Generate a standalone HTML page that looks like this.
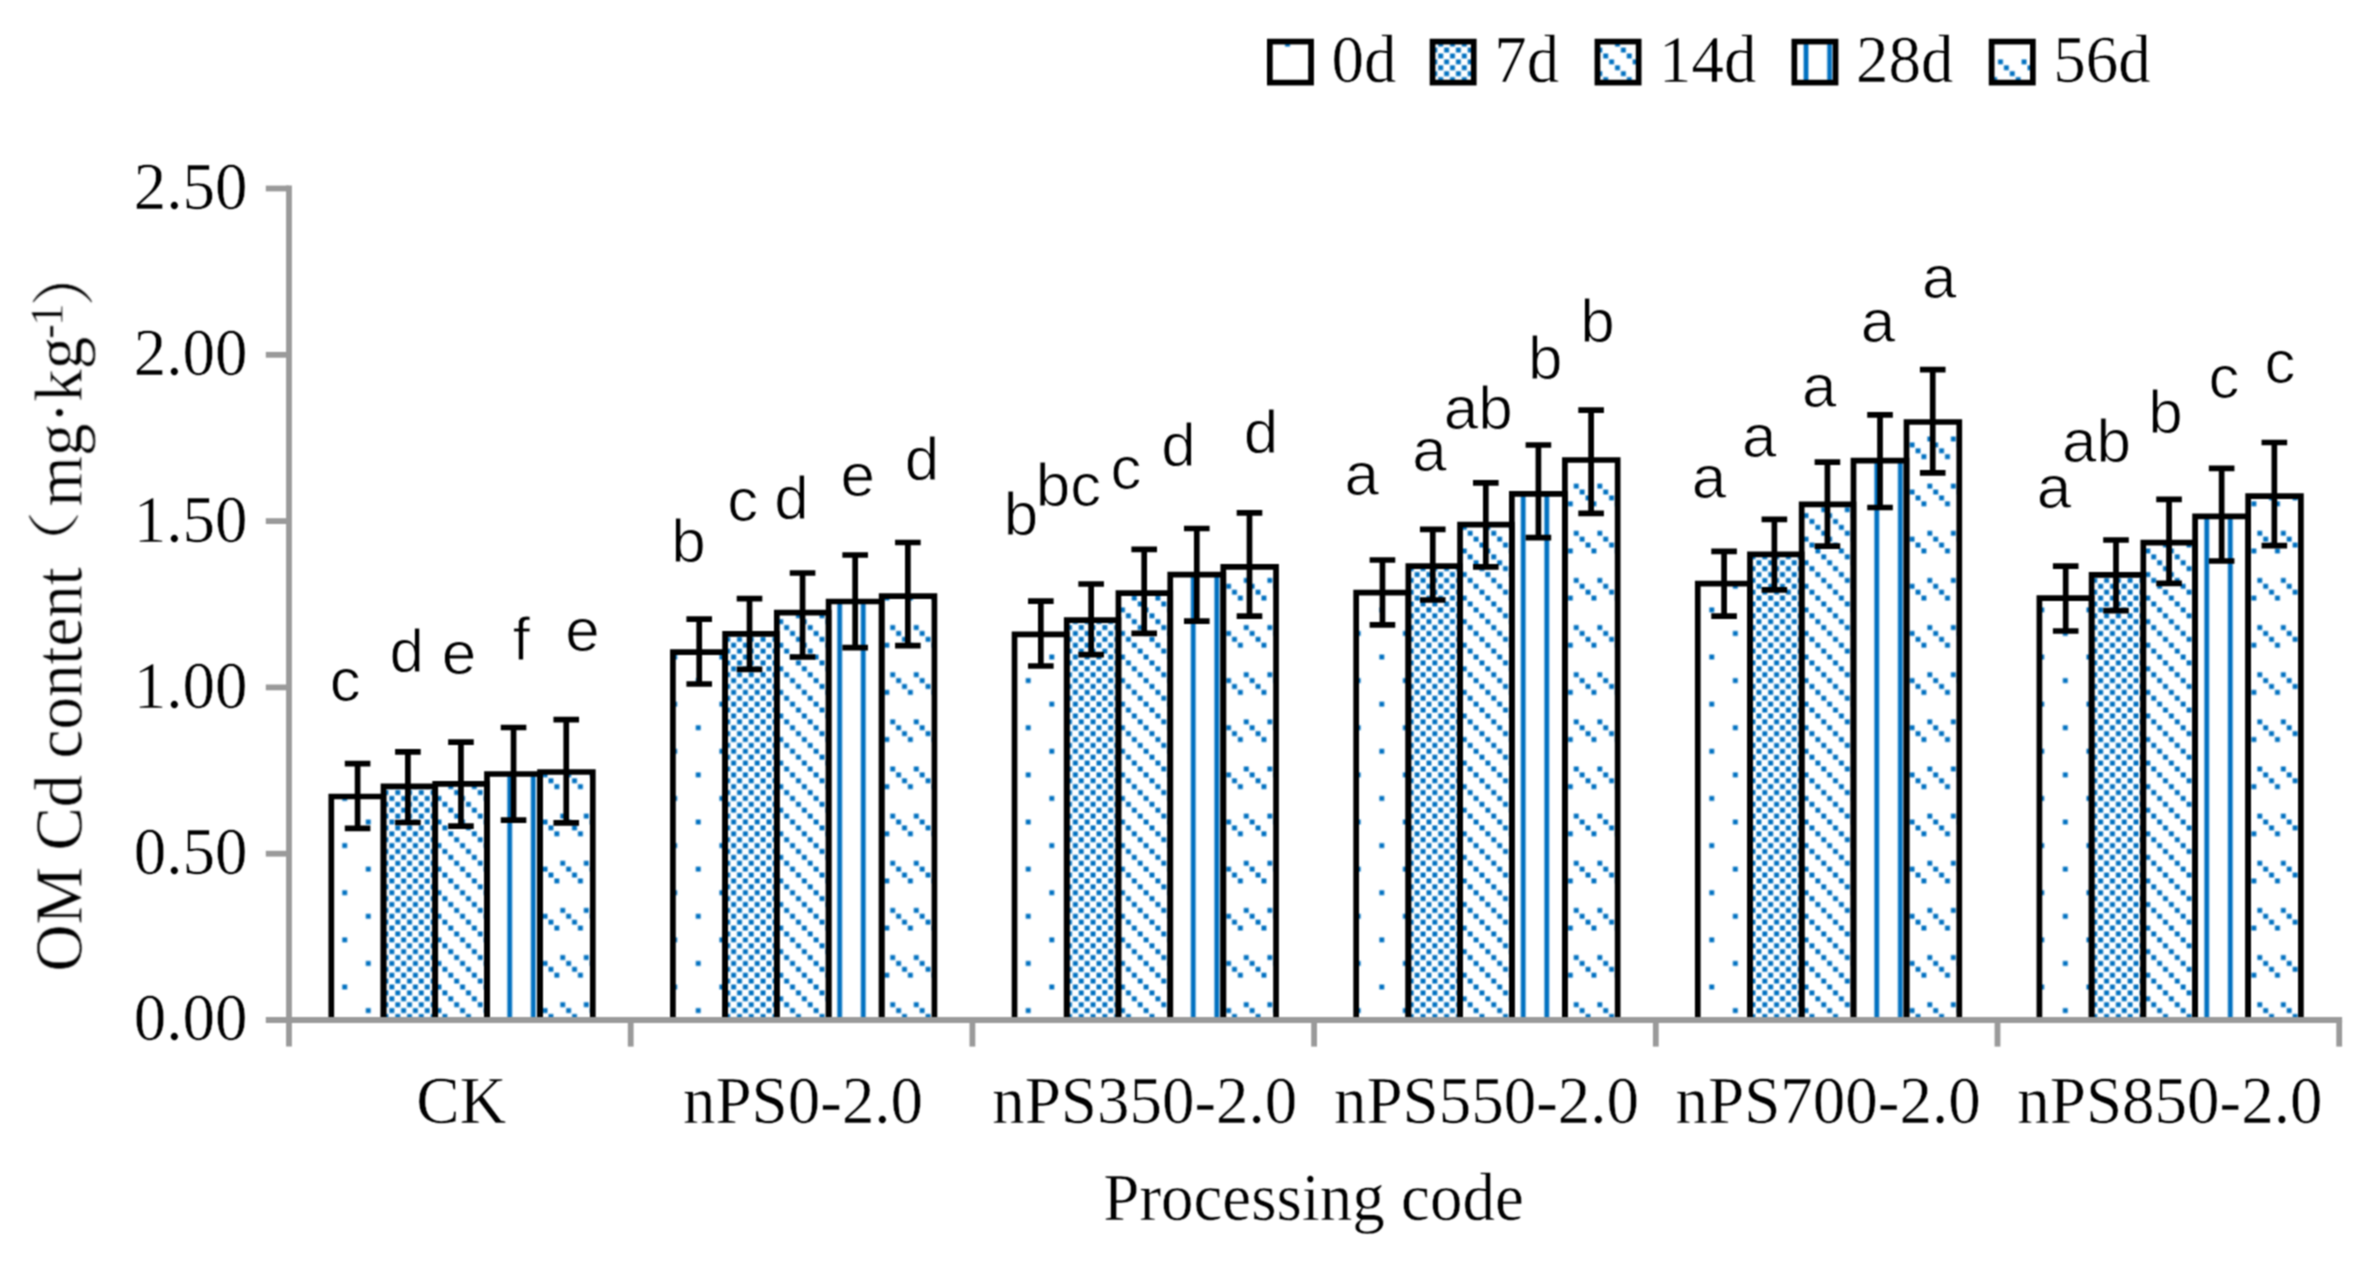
<!DOCTYPE html>
<html lang="en"><head><meta charset="utf-8"><title>OM Cd content chart</title>
<style>html,body{margin:0;padding:0;background:#fff;}body{width:2366px;height:1261px;overflow:hidden;}svg{display:block;}.s{font-family:"Liberation Serif", "Noto Serif CJK SC", serif;font-size:65px;fill:#000;stroke:#fff;stroke-width:0.5px;}.l{font-family:"Liberation Sans", sans-serif;font-size:62px;fill:#000;text-anchor:middle;stroke:#fff;stroke-width:0.9px;}</style>
</head><body>
<svg width="2366" height="1261" viewBox="0 0 2366 1261">
<defs>
<pattern id="p0" patternUnits="userSpaceOnUse" x="0" y="0" width="47.14" height="47.14">
<rect x="0" y="0" width="47.14" height="47.14" fill="#fff"/>
<rect x="12.281" y="41.744" width="4.9" height="4.9" fill="#0070C0"/>
<rect x="35.851" y="18.174" width="4.9" height="4.9" fill="#0070C0"/>
</pattern>
<pattern id="p1" patternUnits="userSpaceOnUse" x="0" y="0" width="11.785" height="11.785">
<rect x="0" y="0" width="11.785" height="11.785" fill="#fff"/>
<rect x="6.389" y="0.496" width="4.9" height="4.9" fill="#0070C0"/>
<rect x="0.496" y="6.389" width="4.9" height="4.9" fill="#0070C0"/>
</pattern>
<pattern id="p2" patternUnits="userSpaceOnUse" x="0" y="0" width="23.57" height="23.57">
<rect x="0" y="0" width="23.57" height="23.57" fill="#fff"/>
<rect x="18.174" y="0.496" width="4.9" height="4.9" fill="#0070C0"/>
<rect x="0.496" y="6.389" width="4.9" height="4.9" fill="#0070C0"/>
<rect x="6.389" y="12.281" width="4.9" height="4.9" fill="#0070C0"/>
<rect x="12.281" y="18.174" width="4.9" height="4.9" fill="#0070C0"/>
</pattern>
<pattern id="p3" patternUnits="userSpaceOnUse" x="0" y="0" width="23.57" height="47.14">
<rect x="0" y="0" width="23.57" height="47.14" fill="#fff"/>
<rect x="12.331" y="0" width="4.8" height="47.14" fill="#0070C0"/>
</pattern>
<pattern id="p4" patternUnits="userSpaceOnUse" x="0" y="0" width="23.57" height="47.14">
<rect x="0" y="0" width="23.57" height="47.14" fill="#fff"/>
<rect x="18.174" y="12.281" width="4.9" height="4.9" fill="#0070C0"/>
<rect x="0.496" y="18.174" width="4.9" height="4.9" fill="#0070C0"/>
<rect x="6.389" y="24.066" width="4.9" height="4.9" fill="#0070C0"/>
<rect x="12.281" y="29.959" width="4.9" height="4.9" fill="#0070C0"/>
</pattern>
<filter id="soft" filterUnits="userSpaceOnUse" x="0" y="0" width="2366" height="1261" color-interpolation-filters="sRGB"><feConvolveMatrix order="3" kernelMatrix="1 2 1 2 4 2 1 2 1" divisor="16" edgeMode="duplicate" preserveAlpha="false"/></filter>
</defs>
<rect x="0" y="0" width="2366" height="1261" fill="#fff"/>
<g filter="url(#soft)">
<g>
<rect x="331.3" y="796.5" width="52.2" height="223.5" fill="url(#p0)"/>
<rect x="383.5" y="786.4" width="51.7" height="233.6" fill="url(#p1)"/>
<rect x="435.2" y="783.8" width="51.8" height="236.2" fill="url(#p2)"/>
<rect x="487" y="774" width="53.05" height="246" fill="url(#p3)"/>
<rect x="540.05" y="772" width="52.75" height="248" fill="url(#p4)"/>
<rect x="672.92" y="652.2" width="52.2" height="367.8" fill="url(#p0)"/>
<rect x="725.12" y="633.8" width="51.7" height="386.2" fill="url(#p1)"/>
<rect x="776.82" y="612.6" width="51.8" height="407.4" fill="url(#p2)"/>
<rect x="828.62" y="601.5" width="53.05" height="418.5" fill="url(#p3)"/>
<rect x="881.67" y="596.1" width="52.75" height="423.9" fill="url(#p4)"/>
<rect x="1014.54" y="634.4" width="52.2" height="385.6" fill="url(#p0)"/>
<rect x="1066.74" y="620.2" width="51.7" height="399.8" fill="url(#p1)"/>
<rect x="1118.44" y="593.1" width="51.8" height="426.9" fill="url(#p2)"/>
<rect x="1170.24" y="574.6" width="53.05" height="445.4" fill="url(#p3)"/>
<rect x="1223.29" y="566.8" width="52.75" height="453.2" fill="url(#p4)"/>
<rect x="1356.16" y="592.6" width="52.2" height="427.4" fill="url(#p0)"/>
<rect x="1408.36" y="566.2" width="51.7" height="453.8" fill="url(#p1)"/>
<rect x="1460.06" y="524.6" width="51.8" height="495.4" fill="url(#p2)"/>
<rect x="1511.86" y="493.8" width="53.05" height="526.2" fill="url(#p3)"/>
<rect x="1564.91" y="460" width="52.75" height="560" fill="url(#p4)"/>
<rect x="1697.78" y="583.7" width="52.2" height="436.3" fill="url(#p0)"/>
<rect x="1749.98" y="554.4" width="51.7" height="465.6" fill="url(#p1)"/>
<rect x="1801.68" y="504.3" width="51.8" height="515.7" fill="url(#p2)"/>
<rect x="1853.48" y="460.6" width="53.05" height="559.4" fill="url(#p3)"/>
<rect x="1906.53" y="422" width="52.75" height="598" fill="url(#p4)"/>
<rect x="2039.4" y="598.2" width="52.2" height="421.8" fill="url(#p0)"/>
<rect x="2091.6" y="574.8" width="51.7" height="445.2" fill="url(#p1)"/>
<rect x="2143.3" y="542.6" width="51.8" height="477.4" fill="url(#p2)"/>
<rect x="2195.1" y="516.4" width="53.05" height="503.6" fill="url(#p3)"/>
<rect x="2248.15" y="496.1" width="52.75" height="523.9" fill="url(#p4)"/>
<rect x="1269.85" y="41.6" width="41.2" height="41" fill="url(#p0)"/>
<rect x="1432.55" y="41.6" width="41.2" height="41" fill="url(#p1)"/>
<rect x="1597.45" y="41.6" width="41.2" height="41" fill="url(#p2)"/>
<rect x="1794.35" y="41.6" width="41.2" height="41" fill="url(#p3)"/>
<rect x="1991.65" y="41.6" width="41.2" height="41" fill="url(#p4)"/>
</g>
<g>
<g stroke="#000" stroke-width="5.7" stroke-linejoin="miter" fill="none">
<path d="M331.3 1020V796.5H383.5V1020"/>
<path d="M383.5 1020V786.4H435.2V1020"/>
<path d="M435.2 1020V783.8H487V1020"/>
<path d="M487 1020V774H540.05V1020"/>
<path d="M540.05 1020V772H592.8V1020"/>
<path d="M672.92 1020V652.2H725.12V1020"/>
<path d="M725.12 1020V633.8H776.82V1020"/>
<path d="M776.82 1020V612.6H828.62V1020"/>
<path d="M828.62 1020V601.5H881.67V1020"/>
<path d="M881.67 1020V596.1H934.42V1020"/>
<path d="M1014.54 1020V634.4H1066.74V1020"/>
<path d="M1066.74 1020V620.2H1118.44V1020"/>
<path d="M1118.44 1020V593.1H1170.24V1020"/>
<path d="M1170.24 1020V574.6H1223.29V1020"/>
<path d="M1223.29 1020V566.8H1276.04V1020"/>
<path d="M1356.16 1020V592.6H1408.36V1020"/>
<path d="M1408.36 1020V566.2H1460.06V1020"/>
<path d="M1460.06 1020V524.6H1511.86V1020"/>
<path d="M1511.86 1020V493.8H1564.91V1020"/>
<path d="M1564.91 1020V460H1617.66V1020"/>
<path d="M1697.78 1020V583.7H1749.98V1020"/>
<path d="M1749.98 1020V554.4H1801.68V1020"/>
<path d="M1801.68 1020V504.3H1853.48V1020"/>
<path d="M1853.48 1020V460.6H1906.53V1020"/>
<path d="M1906.53 1020V422H1959.28V1020"/>
<path d="M2039.4 1020V598.2H2091.6V1020"/>
<path d="M2091.6 1020V574.8H2143.3V1020"/>
<path d="M2143.3 1020V542.6H2195.1V1020"/>
<path d="M2195.1 1020V516.4H2248.15V1020"/>
<path d="M2248.15 1020V496.1H2300.9V1020"/>
<rect x="1269.85" y="41.6" width="41.2" height="41"/>
<rect x="1432.55" y="41.6" width="41.2" height="41"/>
<rect x="1597.45" y="41.6" width="41.2" height="41"/>
<rect x="1794.35" y="41.6" width="41.2" height="41"/>
<rect x="1991.65" y="41.6" width="41.2" height="41"/>
</g>
<g stroke="#000" stroke-width="5.7" fill="none">
<path d="M357.6 763.6V828.4M344.8 763.6H370.4M344.8 828.4H370.4"/>
<path d="M407.9 751.9V822.5M395.1 751.9H420.7M395.1 822.5H420.7"/>
<path d="M460.95 742.2V826.2M448.15 742.2H473.75M448.15 826.2H473.75"/>
<path d="M513.55 727.5V820.1M500.75 727.5H526.35M500.75 820.1H526.35"/>
<path d="M566.25 719.6V822.8M553.45 719.6H579.05M553.45 822.8H579.05"/>
<path d="M699.22 619.2V684M686.42 619.2H712.02M686.42 684H712.02"/>
<path d="M749.52 598.7V669.3M736.72 598.7H762.32M736.72 669.3H762.32"/>
<path d="M802.57 573V657M789.77 573H815.37M789.77 657H815.37"/>
<path d="M855.17 555V647.6M842.37 555H867.97M842.37 647.6H867.97"/>
<path d="M907.87 542.5V645.7M895.07 542.5H920.67M895.07 645.7H920.67"/>
<path d="M1040.84 601.2V666M1028.04 601.2H1053.64M1028.04 666H1053.64"/>
<path d="M1091.14 584V654.6M1078.34 584H1103.94M1078.34 654.6H1103.94"/>
<path d="M1144.19 549.4V633.4M1131.39 549.4H1156.99M1131.39 633.4H1156.99"/>
<path d="M1196.79 528.5V621.1M1183.99 528.5H1209.59M1183.99 621.1H1209.59"/>
<path d="M1249.49 512.9V616.1M1236.69 512.9H1262.29M1236.69 616.1H1262.29"/>
<path d="M1382.46 560V624.8M1369.66 560H1395.26M1369.66 624.8H1395.26"/>
<path d="M1432.76 529.4V600M1419.96 529.4H1445.56M1419.96 600H1445.56"/>
<path d="M1485.81 482.9V566.9M1473.01 482.9H1498.61M1473.01 566.9H1498.61"/>
<path d="M1538.41 445V537.6M1525.61 445H1551.21M1525.61 537.6H1551.21"/>
<path d="M1591.11 410.2V513.4M1578.31 410.2H1603.91M1578.31 513.4H1603.91"/>
<path d="M1724.08 551.4V616.2M1711.28 551.4H1736.88M1711.28 616.2H1736.88"/>
<path d="M1774.38 519.3V589.9M1761.58 519.3H1787.18M1761.58 589.9H1787.18"/>
<path d="M1827.43 462.1V546.1M1814.63 462.1H1840.23M1814.63 546.1H1840.23"/>
<path d="M1880.03 414.9V507.5M1867.23 414.9H1892.83M1867.23 507.5H1892.83"/>
<path d="M1932.73 369.7V472.9M1919.93 369.7H1945.53M1919.93 472.9H1945.53"/>
<path d="M2065.7 566.2V631M2052.9 566.2H2078.5M2052.9 631H2078.5"/>
<path d="M2116 540V610.6M2103.2 540H2128.8M2103.2 610.6H2128.8"/>
<path d="M2169.05 499.4V583.4M2156.25 499.4H2181.85M2156.25 583.4H2181.85"/>
<path d="M2221.65 468.4V561M2208.85 468.4H2234.45M2208.85 561H2234.45"/>
<path d="M2274.35 442.5V545.7M2261.55 442.5H2287.15M2261.55 545.7H2287.15"/>
</g>
<g stroke="#9a9a9a" stroke-width="5.8" fill="none">
<path d="M289 185.6V1046.6"/>
<path d="M265.8 1020H2342.1"/>
<path d="M265.8 853.7H289"/>
<path d="M265.8 687.4H289"/>
<path d="M265.8 521.1H289"/>
<path d="M265.8 354.8H289"/>
<path d="M265.8 188.5H289"/>
<path d="M630.7 1020V1046.6"/>
<path d="M972.4 1020V1046.6"/>
<path d="M1314.1 1020V1046.6"/>
<path d="M1655.8 1020V1046.6"/>
<path d="M1997.5 1020V1046.6"/>
<path d="M2339.2 1020V1046.6"/>
</g>
<g class="s" text-anchor="end">
<text transform="translate(247.4 1040.4) scale(1 1.04)">0.00</text>
<text transform="translate(247.4 874.1) scale(1 1.04)">0.50</text>
<text transform="translate(247.4 707.8) scale(1 1.04)">1.00</text>
<text transform="translate(247.4 541.5) scale(1 1.04)">1.50</text>
<text transform="translate(247.4 375.2) scale(1 1.04)">2.00</text>
<text transform="translate(247.4 208.9) scale(1 1.04)">2.50</text>
</g>
<g class="s" text-anchor="middle">
<text transform="translate(461.35 1123) scale(1 1.04)">CK</text>
<text transform="translate(803.05 1123) scale(1 1.04)">nPS0-2.0</text>
<text transform="translate(1144.75 1123) scale(1 1.04)">nPS350-2.0</text>
<text transform="translate(1486.45 1123) scale(1 1.04)">nPS550-2.0</text>
<text transform="translate(1828.15 1123) scale(1 1.04)">nPS700-2.0</text>
<text transform="translate(2169.85 1123) scale(1 1.04)">nPS850-2.0</text>
<text transform="translate(1313.5 1220) scale(1 1.04)">Processing code</text>
</g>
<g class="s" transform="translate(81.5 969.5) rotate(-90)">
<text transform="translate(-2 0) scale(1 1.04)">OM Cd content</text>
<text transform="translate(388.9 -6.9) scale(1.08 0.82)">（</text>
<text transform="translate(463 0) scale(1 1.04)">mg·kg</text>
<text transform="translate(630.5 -19.2) scale(1 1.04)" style="font-size:45px">-</text>
<text transform="translate(643.5 -19.2) scale(1 1.04)" style="font-size:45px">1</text>
<text transform="translate(662.4 4.7) scale(1.02 0.99)">）</text>
</g>
<g class="s">
<text transform="translate(1331.5 82) scale(1 1.04)">0d</text>
<text transform="translate(1494.2 82) scale(1 1.04)">7d</text>
<text transform="translate(1659.1 82) scale(1 1.04)">14d</text>
<text transform="translate(1856 82) scale(1 1.04)">28d</text>
<text transform="translate(2053.3 82) scale(1 1.04)">56d</text>
</g>
<g class="l">
<text x="345.2" y="700.9">c</text>
<text x="406.7" y="671.9">d</text>
<text x="459.1" y="673.9">e</text>
<text x="521.3" y="659.7">f</text>
<text x="582.5" y="650.9">e</text>
<text x="688.4" y="561.5">b</text>
<text x="742.7" y="521.3">c</text>
<text x="791.6" y="518.5">d</text>
<text x="857.8" y="496.2">e</text>
<text x="922" y="479.5">d</text>
<text x="1021" y="535.3">b</text>
<text x="1068.4" y="506">bc</text>
<text x="1126" y="489.2">c</text>
<text x="1178.6" y="465.5">d</text>
<text x="1261" y="453">d</text>
<text x="1361.8" y="495">a</text>
<text x="1429.5" y="471.3">a</text>
<text x="1478.3" y="429.4">ab</text>
<text x="1545.2" y="379.2">b</text>
<text x="1597.5" y="341.5">b</text>
<text x="1709" y="497.8">a</text>
<text x="1759.3" y="456.5">a</text>
<text x="1819.3" y="406.5">a</text>
<text x="1877.9" y="341.5">a</text>
<text x="1939.2" y="298.3">a</text>
<text x="2054" y="507.5">a</text>
<text x="2096.5" y="462">ab</text>
<text x="2165.5" y="432.5">b</text>
<text x="2224" y="397.8">c</text>
<text x="2280" y="382.5">c</text>
</g>
</g>
</g>
</svg>
</body></html>
